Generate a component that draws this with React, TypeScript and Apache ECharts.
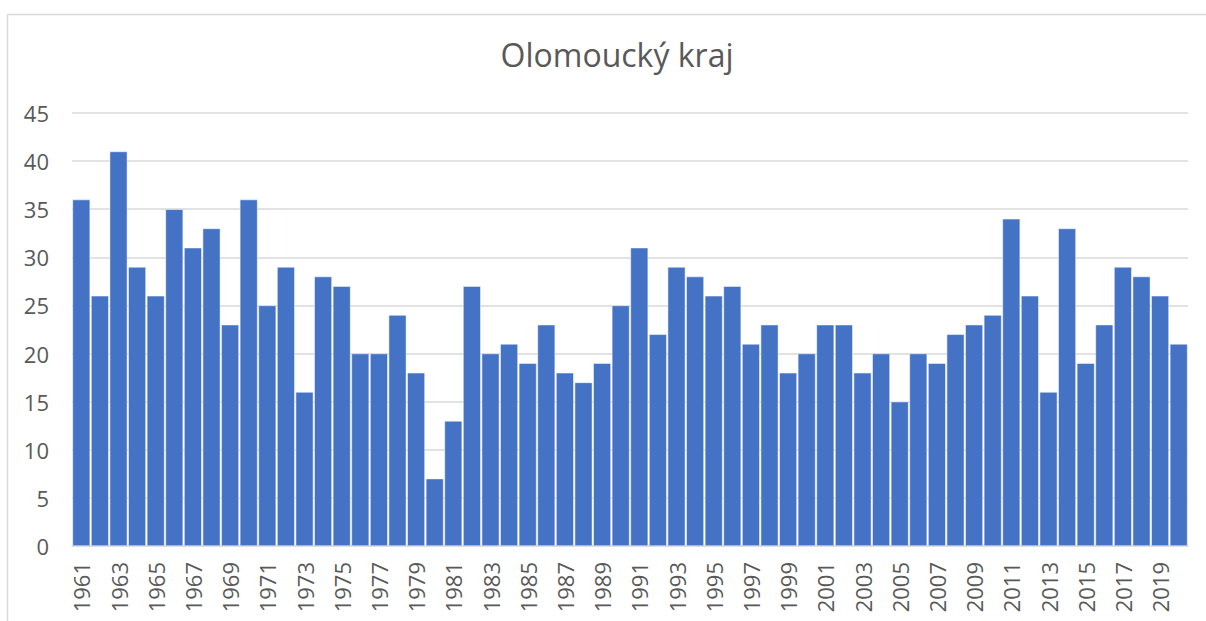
import React, { useEffect, useRef } from "react";
import * as echarts from "echarts";

const years: string[] = [];
for (let y = 1961; y <= 2020; y++) years.push(String(y));

const values = [
  36, 26, 41, 29, 26, 35, 31, 33, 23, 36,
  25, 29, 16, 28, 27, 20, 20, 24, 18, 7,
  13, 27, 20, 21, 19, 23, 18, 17, 19, 25,
  31, 22, 29, 28, 26, 27, 21, 23, 18, 20,
  23, 23, 18, 20, 15, 20, 19, 22, 23, 24,
  34, 26, 16, 33, 19, 23, 29, 28, 26, 21,
];

const title = "Olomoucký kraj";
const FONT = "'Open Sans', Lato, sans-serif";

export default function App() {
  const ref = useRef<HTMLDivElement>(null);
  useEffect(() => {
    if (!ref.current) return;
    const chart = echarts.init(ref.current, null, { renderer: "svg" });
    chart.setOption({
      animation: false,
      backgroundColor: "#ffffff",
      title: {
        text: title,
        left: 612,
        textAlign: "center",
        top: 33,
        textStyle: { fontFamily: FONT, fontSize: 32, fontWeight: "normal", color: "#595959" },
      },
      graphic: [
        {
          type: "rect",
          shape: { x: 7.5, y: 14.5, width: 1300, height: 700 },
          style: { fill: "none", stroke: "#d9d9d9", lineWidth: 1.5 },
          silent: true,
        },
      ],
      grid: { left: 72, right: 18, top: 113, bottom: 75, containLabel: false },
      xAxis: {
        type: "category",
        data: years,
        axisTick: { show: false },
        axisLine: { show: true, lineStyle: { color: "#d9d9d9", width: 1.5 } },
        axisLabel: {
          interval: 1,
          rotate: 90,
          margin: 16,
          fontFamily: FONT,
          fontSize: 22,
          color: "#595959",
        },
      },
      yAxis: {
        type: "value",
        min: 0,
        max: 45,
        interval: 5,
        axisLine: { show: false },
        axisTick: { show: false },
        axisLabel: { fontFamily: FONT, fontSize: 22, color: "#595959", margin: 23 },
        splitLine: { lineStyle: { color: "#d9d9d9", width: 1.5 } },
      },
      series: [
        {
          type: "bar",
          data: values,
          barCategoryGap: "5%",
          itemStyle: { color: "#4472c4", borderColor: "#ffffff", borderWidth: 0.5 },
        },
      ],
    });
    return () => chart.dispose();
  }, []);
  return (
    <div
      ref={ref}
      style={{ position: "fixed", left: 0, top: 0, width: 1206, height: 621 }}
    />
  );
}
